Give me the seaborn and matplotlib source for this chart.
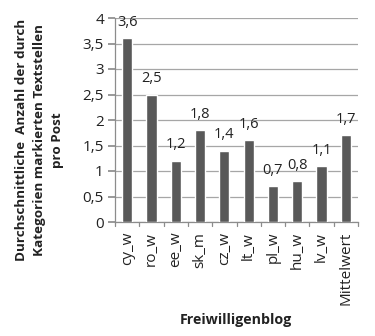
import matplotlib
matplotlib.use("Agg")
import matplotlib.pyplot as plt
import seaborn as sns
import pandas as pd

blogs = ["cy_w", "ro_w", "ee_w", "sk_m", "cz_w", "lt_w", "pl_w", "hu_w", "lv_w", "Mittelwert"]
values = [3.6, 2.5, 1.2, 1.8, 1.4, 1.6, 0.7, 0.8, 1.1, 1.7]
y_ticks = [0, 0.5, 1, 1.5, 2, 2.5, 3, 3.5, 4]

sns.set_theme(style="white")
plt.rcParams["font.family"] = ["Open Sans", "DejaVu Sans"]

df = pd.DataFrame({"blog": blogs, "wert": values})

fig = plt.figure(figsize=(3.75, 3.36), dpi=100)
ax = fig.add_axes([115 / 375, 1 - 222 / 336, (358 - 115) / 375, (222 - 18) / 336])

sns.barplot(data=df, x="blog", y="wert", color="#595959", width=0.42,
            saturation=1, ax=ax, zorder=3)

def de(v):
    return (f"{v:g}").replace(".", ",")

for i, v in enumerate(values):
    ax.annotate(de(v), (i, v), xytext=(0, 6), textcoords="offset points",
                ha="center", va="bottom", fontsize=10.5, color="#222222",
                zorder=4, annotation_clip=False)

ax.set_ylim(0, 4)
ax.set_xlim(-0.5, len(blogs) - 0.5)
ax.set_yticks(y_ticks)
ax.set_yticklabels([de(t) for t in y_ticks], fontsize=11, color="#222222")
ax.yaxis.grid(True, color="#a6a6a6", linewidth=0.9, zorder=0)
ax.xaxis.grid(False)

ax.set_xticks(range(len(blogs)))
ax.set_xticklabels(blogs, rotation=90, fontsize=11, color="#222222")
ax.tick_params(axis="x", length=0, pad=7)
ax.tick_params(axis="y", length=5, color="#8c8c8c", direction="out", left=True, pad=3)

# category separator ticks on the x axis
for b in range(len(blogs) + 1):
    ax.plot([b - 0.5, b - 0.5], [0, -0.08], color="#8c8c8c", lw=0.9, clip_on=False, zorder=5)

for side in ["top", "right"]:
    ax.spines[side].set_visible(False)
ax.spines["left"].set_color("#8c8c8c")
ax.spines["bottom"].set_color("#8c8c8c")
ax.spines["left"].set_linewidth(0.9)
ax.spines["bottom"].set_linewidth(0.9)

ax.set_ylabel("")
ax.set_xlabel("")
fig.text(40 / 375, 1 - 140 / 336,
         "Durchschnittliche  Anzahl der durch\nKategorien markierten Textstellen\npro Post",
         rotation=90, ha="center", va="center", multialignment="center",
         fontsize=9.7, fontweight="bold", color="#222222", linespacing=1.5)
fig.text(236 / 375, 1 - 320 / 336, "Freiwilligenblog", ha="center", va="center",
         fontsize=10.3, fontweight="bold", color="#222222")

fig.savefig("out.png", dpi=100)
